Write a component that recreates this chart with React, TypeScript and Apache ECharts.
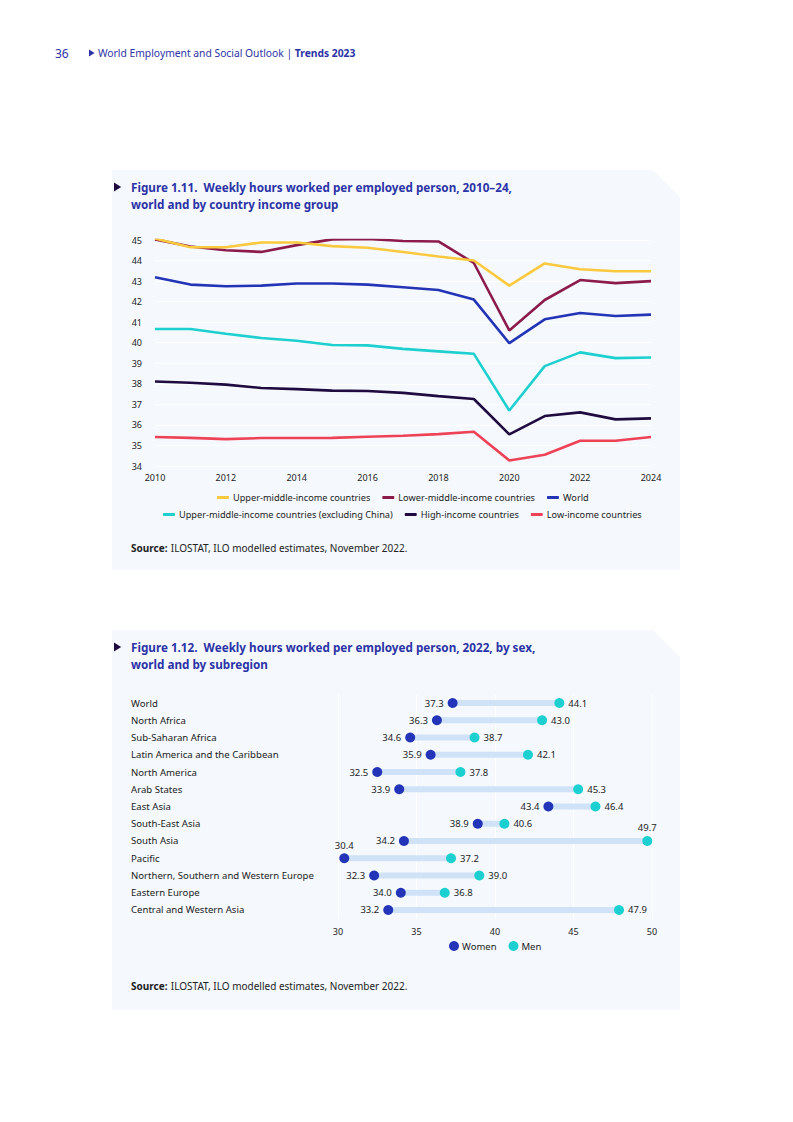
import React, { useEffect, useRef } from "react";
import * as echarts from "echarts";

const years = ["2010","2011","2012","2013","2014","2015","2016","2017","2018","2019","2020","2021","2022","2023","2024"];
const yTicks = { min: 34, max: 45, interval: 1 };

const upperMiddle = [45.07, 44.65, 44.65, 44.88, 44.88, 44.7, 44.62, 44.42, 44.2, 44.0, 42.78, 43.86, 43.58, 43.48, 43.48];
const lowerMiddle = [45.03, 44.68, 44.5, 44.42, 44.75, 45.03, 45.05, 44.95, 44.93, 43.88, 40.6, 42.08, 43.05, 42.9, 43.0];
const world = [43.19, 42.83, 42.75, 42.78, 42.88, 42.88, 42.83, 42.7, 42.57, 42.1, 39.98, 41.14, 41.45, 41.3, 41.37];
const upperMiddleExChina = [40.67, 40.67, 40.44, 40.23, 40.1, 39.89, 39.87, 39.7, 39.58, 39.46, 36.7, 38.86, 39.53, 39.25, 39.28];
const highIncome = [38.11, 38.05, 37.96, 37.8, 37.74, 37.67, 37.65, 37.56, 37.4, 37.26, 35.54, 36.43, 36.61, 36.27, 36.32];
const lowIncome = [35.41, 35.37, 35.31, 35.36, 35.36, 35.37, 35.42, 35.47, 35.55, 35.67, 34.27, 34.55, 35.23, 35.23, 35.41];

const seriesNames = [
  "Upper-middle-income countries",
  "Lower-middle-income countries",
  "World",
  "Upper-middle-income countries (excluding China)",
  "High-income countries",
  "Low-income countries",
];
const seriesColors = ["#fbc93d", "#8c1a4b", "#2334b6", "#1ecfcf", "#1f0b40", "#ee4257"];

const regions = [
  "World",
  "North Africa",
  "Sub-Saharan Africa",
  "Latin America and the Caribbean",
  "North America",
  "Arab States",
  "East Asia",
  "South-East Asia",
  "South Asia",
  "Pacific",
  "Northern, Southern and Western Europe",
  "Eastern Europe",
  "Central and Western Asia",
];
const women = [37.3, 36.3, 34.6, 35.9, 32.5, 33.9, 43.4, 38.9, 34.2, 30.4, 32.3, 34.0, 33.2];
const men = [44.1, 43.0, 38.7, 42.1, 37.8, 45.3, 46.4, 40.6, 49.7, 37.2, 39.0, 36.8, 47.9];
const xTicks2 = { min: 30, max: 50, interval: 5 };

const FONT = "Noto Sans";
const TITLE_COLOR = "#2b33a6";
const TEXT_COLOR = "#222222";
const PANEL = "#f5f9fd";

export default function App() {
  const ref = useRef<HTMLDivElement>(null);
  useEffect(() => {
    if (!ref.current) return;
    const chart = echarts.init(ref.current, null, { renderer: "svg" });
    const lineData = [upperMiddle, lowerMiddle, world, upperMiddleExChina, highIncome, lowIncome];

    const panel = (top: number, bottom: number) => ({
      type: "polygon",
      z: -10,
      silent: true,
      shape: { points: [[112, top], [653, top], [680, top + 27], [680, bottom], [112, bottom]] },
      style: { fill: PANEL },
    });
    const triangle = (cx: number, cy: number, s: number, color: string) => ({
      type: "polygon",
      shape: { points: [[cx, cy - s], [cx + s * 1.6, cy], [cx, cy + s]] },
      style: { fill: color },
    });
    const titleText = (y: number, text: string) => ({
      type: "text",
      x: 131,
      y: y - 8.5,
      style: {
        text,
        fontFamily: FONT,
        fontSize: 11.7,
        fontWeight: "bold",
        fill: TITLE_COLOR,
        lineHeight: 17,
        verticalAlign: "top",
      },
    });
    const sourceText = (y: number) => ({
      type: "text",
      x: 131,
      y,
      style: {
        text: "{b|Source:} {a|ILOSTAT, ILO modelled estimates, November 2022.}",
        verticalAlign: "middle",
        rich: {
          a: { fontFamily: FONT, fontSize: 10, fill: TEXT_COLOR },
          b: { fontFamily: FONT, fontSize: 10, fontWeight: "bold", fill: TEXT_COLOR },
        },
      },
    });
    const legendText = { fontFamily: FONT, fontSize: 9.2, color: TEXT_COLOR, padding: [0, 0, 0, -1] };

    const option: any = {
      animation: false,
      backgroundColor: "#ffffff",
      textStyle: { fontFamily: FONT },
      graphic: [
        panel(170, 570),
        panel(630, 1010),
        {
          type: "text",
          x: 55,
          y: 53,
          style: { text: "36", fontFamily: FONT, fontSize: 12, fill: TITLE_COLOR, verticalAlign: "middle" },
        },
        triangle(89, 53, 3.5, TITLE_COLOR),
        {
          type: "text",
          x: 98,
          y: 53,
          style: {
            text: "{a|World Employment and Social Outlook | }{b|Trends 2023}",
            verticalAlign: "middle",
            rich: {
              a: { fontFamily: FONT, fontSize: 10.3, fill: TITLE_COLOR },
              b: { fontFamily: FONT, fontSize: 10.3, fontWeight: "bold", fill: TITLE_COLOR },
            },
          },
        },
        triangle(114, 187, 4.5, "#1f0b40"),
        titleText(187, "Figure 1.11.  Weekly hours worked per employed person, 2010–24,\nworld and by country income group"),
        triangle(114, 647, 4.5, "#1f0b40"),
        titleText(647, "Figure 1.12.  Weekly hours worked per employed person, 2022, by sex,\nworld and by subregion"),
        sourceText(548),
        sourceText(986),
      ],
      legend: [
        {
          data: seriesNames.slice(0, 3),
          left: 212,
          top: 488,
          icon: "roundRect",
          itemWidth: 12,
          itemHeight: 3,
          itemGap: 12,
          textStyle: legendText,
        },
        {
          data: seriesNames.slice(3),
          left: 158,
          top: 505,
          icon: "roundRect",
          itemWidth: 12,
          itemHeight: 3,
          itemGap: 12,
          textStyle: legendText,
        },
        {
          data: ["Women", "Men"],
          left: 444,
          top: 936,
          icon: "circle",
          itemWidth: 10,
          itemHeight: 10,
          itemGap: 12,
          textStyle: { fontFamily: FONT, fontSize: 9.5, color: TEXT_COLOR, padding: [0, 0, 0, -2] },
        },
      ],
      grid: [
        { left: 155, right: 142, top: 240, height: 226, containLabel: false },
        { left: 338, right: 141, top: 694.4, height: 224.2, containLabel: false },
      ],
      xAxis: [
        {
          gridIndex: 0,
          type: "category",
          data: years,
          boundaryGap: false,
          axisLine: { show: false },
          axisTick: { show: false },
          axisLabel: { interval: 1, fontFamily: FONT, fontSize: 9, color: TEXT_COLOR, margin: 7 },
          splitLine: { show: false },
        },
        {
          gridIndex: 1,
          type: "value",
          min: xTicks2.min,
          max: xTicks2.max,
          interval: xTicks2.interval,
          axisLine: { show: false },
          axisTick: { show: false },
          axisLabel: { fontFamily: FONT, fontSize: 9, color: TEXT_COLOR, margin: 8 },
          splitLine: { show: true, lineStyle: { color: "#ffffff", width: 1 } },
        },
      ],
      yAxis: [
        {
          gridIndex: 0,
          type: "value",
          min: yTicks.min,
          max: yTicks.max,
          interval: yTicks.interval,
          axisLine: { show: false },
          axisTick: { show: false },
          axisLabel: { fontFamily: FONT, fontSize: 9, color: TEXT_COLOR, margin: 13 },
          splitLine: { show: true, lineStyle: { color: "#ffffff", width: 1.2 } },
        },
        {
          gridIndex: 1,
          type: "category",
          data: regions,
          inverse: true,
          axisLine: { show: false },
          axisTick: { show: false },
          axisLabel: { fontFamily: FONT, fontSize: 9.6, color: TEXT_COLOR, align: "left", margin: 207 },
          splitLine: { show: false },
        },
      ],
      series: [
        ...seriesNames.map((name, i) => ({
          name,
          type: "line",
          xAxisIndex: 0,
          yAxisIndex: 0,
          data: lineData[i],
          showSymbol: false,
          symbol: "none",
          lineStyle: { color: seriesColors[i], width: 2.6 },
          itemStyle: { color: seriesColors[i] },
          z: 10 - i,
        })),
        {
          type: "custom",
          xAxisIndex: 1,
          yAxisIndex: 1,
          data: regions.map((_, i) => [i, women[i], men[i]]),
          encode: { x: [1, 2], y: 0 },
          silent: true,
          z: 1,
          renderItem: (params: any, api: any) => {
            const idx = api.value(0);
            const a = api.coord([api.value(1), idx]);
            const b = api.coord([api.value(2), idx]);
            const h = 6;
            return {
              type: "rect",
              shape: { x: a[0], y: a[1] - h / 2, width: b[0] - a[0], height: h },
              style: { fill: "#cfe2f7" },
            };
          },
        },
        {
          name: "Women",
          type: "scatter",
          xAxisIndex: 1,
          yAxisIndex: 1,
          symbol: "circle",
          symbolSize: 10,
          itemStyle: { color: "#2334b9", opacity: 1 },
          z: 5,
          label: {
            show: true,
            position: "left",
            distance: 4,
            fontFamily: FONT,
            fontSize: 9.5,
            color: TEXT_COLOR,
            formatter: (p: any) => p.value[0].toFixed(1),
          },
          data: women.map((v, i) =>
            regions[i] === "Pacific"
              ? { value: [v, regions[i]], label: { position: "top", distance: 3 } }
              : { value: [v, regions[i]] }
          ),
        },
        {
          name: "Men",
          type: "scatter",
          xAxisIndex: 1,
          yAxisIndex: 1,
          symbol: "circle",
          symbolSize: 10,
          itemStyle: { color: "#1ccfd0", opacity: 1 },
          z: 5,
          label: {
            show: true,
            position: "right",
            distance: 4,
            fontFamily: FONT,
            fontSize: 9.5,
            color: TEXT_COLOR,
            formatter: (p: any) => p.value[0].toFixed(1),
          },
          data: men.map((v, i) =>
            regions[i] === "South Asia"
              ? { value: [v, regions[i]], label: { position: "top", distance: 3 } }
              : { value: [v, regions[i]] }
          ),
        },
      ],
    };
    chart.setOption(option);
    return () => chart.dispose();
  }, []);
  return (
    <div
      ref={ref}
      style={{ position: "absolute", left: 0, top: 0, width: 793, height: 1122 }}
    />
  );
}
